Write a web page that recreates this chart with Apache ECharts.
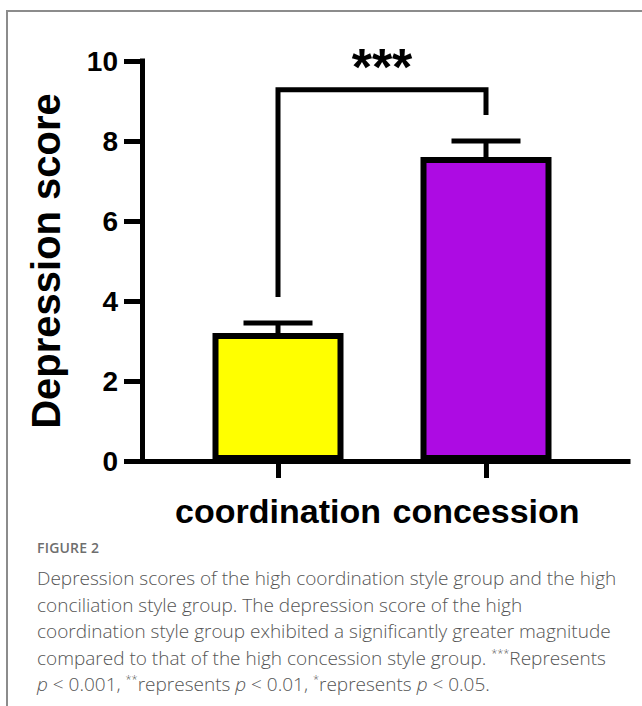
<!DOCTYPE html>
<html>
<head>
<meta charset="utf-8">
<script src="https://cdn.jsdelivr.net/npm/echarts@6/dist/echarts.min.js"></script>
<style>
  html, body { margin: 0; padding: 0; background: #fff; }
  #wrap { position: relative; width: 642px; height: 706px; overflow: hidden; }
  #frame { position: absolute; left: 6px; top: 10px; width: 700px; height: 760px;
           border-top: 2px solid #8c8c8c; border-left: 2px solid #8c8c8c; }
  #chart { position: absolute; left: 0; top: 0; width: 642px; height: 706px; }
  #caption { position: absolute; left: 37px; top: 539px; font-family: "Open Sans", sans-serif;
             color: #555; white-space: nowrap; }
  #caption .fig { font-size: 14px; font-weight: 600; color: #6e6e6e; letter-spacing: 0.2px; line-height: 18px; margin-bottom: 8px; }
  #caption .txt { font-size: 19px; font-weight: 300; line-height: 26.5px; }
  #caption sup { font-size: 11px; vertical-align: 8px; line-height: 0; }
</style>
</head>
<body>
<div id="wrap">
  <div id="frame"></div>
  <div id="chart"></div>
  <div id="caption">
    <div class="fig">FIGURE 2</div>
    <div class="txt">Depression scores of the high coordination style group and the high<br>conciliation style group. The depression score of the high<br>coordination style group exhibited a significantly greater magnitude<br>compared to that of the high concession style group. <sup>***</sup>Represents<br><i>p</i> &lt; 0.001, <sup>**</sup>represents <i>p</i> &lt; 0.01, <sup>*</sup>represents <i>p</i> &lt; 0.05.</div>
  </div>
</div>
<script>
// ---- data ----
const categories = ['coordination', 'concession'];
const means = [3.2, 7.6];
const errTop = [3.45, 8.0];
const barColors = ['#FFFF00', '#AD0BE3'];
const yAxisTitle = 'Depression score';
const yMin = 0, yMax = 10, yStep = 2;
// significance bracket: [fromIndex, toIndex, leftFoot, top, rightFoot]
const bracket = [[0, 1, 4.1, 9.28, 8.65]];
const sigLabels = ['***'];

const FONT = 'Liberation Sans, Arial, sans-serif';
const chart = echarts.init(document.getElementById('chart'), null, { renderer: 'svg' });

const option = {
  animation: false,
  grid: [
    { left: 142, right: 14, top: 61, bottom: 245 },
    { left: 174, right: 52, top: 61, bottom: 245 }
  ],
  xAxis: [
    { gridIndex: 0, type: 'value', min: 0, max: 1,
      axisLine: { show: true, onZero: false, lineStyle: { color: '#000', width: 5, cap: 'square' } },
      axisTick: { show: false }, axisLabel: { show: false }, splitLine: { show: false } },
    { gridIndex: 1, type: 'category', data: categories,
      axisLine: { show: false },
      axisTick: { show: true, alignWithLabel: true, interval: 0, length: 17, lineStyle: { color: '#000', width: 5 } },
      axisLabel: { interval: 0, hideOverlap: false, fontSize: 34, fontWeight: 'bold', color: '#000', margin: 33, fontFamily: FONT } }
  ],
  yAxis: [
    { gridIndex: 0, type: 'value', min: yMin, max: yMax, interval: yStep,
      axisLine: { show: true, lineStyle: { color: '#000', width: 5, cap: 'square' } },
      axisTick: { show: true, length: 18, lineStyle: { color: '#000', width: 5 } },
      axisLabel: { fontSize: 28, fontWeight: 'bold', color: '#000', margin: 24, fontFamily: FONT },
      splitLine: { show: false },
      name: yAxisTitle, nameLocation: 'middle', nameGap: 76,
      nameTextStyle: { fontSize: 40, fontWeight: 'bold', color: '#000', fontFamily: FONT } },
    { gridIndex: 1, type: 'value', min: yMin, max: yMax, show: false }
  ],
  series: [
    { type: 'bar', xAxisIndex: 1, yAxisIndex: 1, barWidth: 131,
      data: means.map((v, i) => ({ value: v, itemStyle: { color: barColors[i], borderColor: '#000', borderWidth: 6 } })),
      z: 2 },
    { type: 'custom', xAxisIndex: 1, yAxisIndex: 1, z: 3,
      data: means.map((m, i) => [i, m, errTop[i]]),
      renderItem: function (params, api) {
        const b = api.coord([api.value(0), api.value(1)]);
        const t = api.coord([api.value(0), api.value(2)]);
        const half = 34.5;
        const st = { stroke: '#000', lineWidth: 5 };
        return { type: 'group', children: [
          { type: 'line', shape: { x1: b[0], y1: b[1], x2: t[0], y2: t[1] }, style: st },
          { type: 'line', shape: { x1: t[0] - half, y1: t[1], x2: t[0] + half, y2: t[1] }, style: st }
        ]};
      } },
    { type: 'custom', xAxisIndex: 1, yAxisIndex: 1, z: 3,
      data: bracket,
      renderItem: function (params, api) {
        const p1 = api.coord([api.value(0), api.value(2)]);
        const p2 = api.coord([api.value(0), api.value(3)]);
        const p3 = api.coord([api.value(1), api.value(3)]);
        const p4 = api.coord([api.value(1), api.value(4)]);
        return { type: 'group', children: [
          { type: 'polyline', shape: { points: [p1, p2, p3, p4] },
            style: { stroke: '#000', lineWidth: 5, fill: null, lineJoin: 'miter' } },
          { type: 'text', x: (p2[0] + p3[0]) / 2, y: p2[1] - 23,
            style: { text: sigLabels[params.dataIndex], fontSize: 52, fontWeight: 'bold', fontFamily: FONT,
                     fill: '#000', align: 'center', verticalAlign: 'middle' } }
        ]};
      } }
  ]
};
chart.setOption(option);
</script>
</body>
</html>
